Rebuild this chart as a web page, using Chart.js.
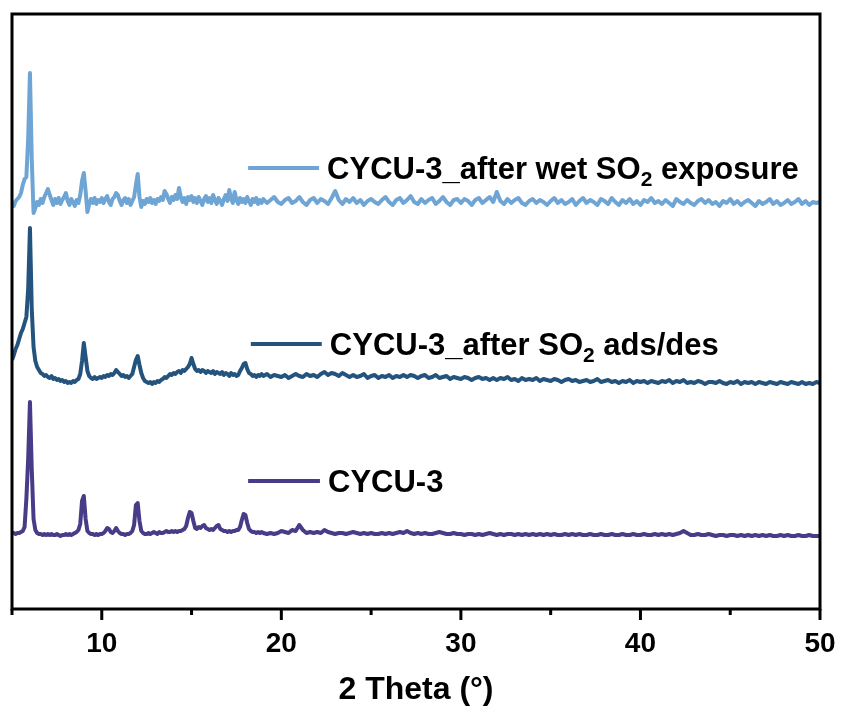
<!DOCTYPE html>
<html>
<head>
<meta charset="utf-8">
<script src="https://cdn.jsdelivr.net/npm/chart.js@4.4.1/dist/chart.umd.min.js"></script>
<style>
  html, body { margin: 0; padding: 0; background: #fff; }
  canvas { display: block; }
</style>
</head>
<body>
<canvas id="xrdChart" width="842" height="717"></canvas>
<script>
/* -------------------------------------------------------
   PXRD patterns of CYCU-3 (offset stacked, a.u.)
------------------------------------------------------- */

// 2 theta grid: 0.1 deg steps up to 18.9, then 0.2 deg steps to 50
const twoTheta = [
  5.0, 5.1, 5.2, 5.3, 5.4, 5.5, 5.6, 5.7, 5.8, 5.9,
  6.0, 6.1, 6.2, 6.3, 6.4, 6.5, 6.6, 6.7, 6.8, 6.9,
  7.0, 7.1, 7.2, 7.3, 7.4, 7.5, 7.6, 7.7, 7.8, 7.9,
  8.0, 8.1, 8.2, 8.3, 8.4, 8.5, 8.6, 8.7, 8.8, 8.9,
  9.0, 9.1, 9.2, 9.3, 9.4, 9.5, 9.6, 9.7, 9.8, 9.9,
  10.0, 10.1, 10.2, 10.3, 10.4, 10.5, 10.6, 10.7, 10.8, 10.9,
  11.0, 11.1, 11.2, 11.3, 11.4, 11.5, 11.6, 11.7, 11.8, 11.9,
  12.0, 12.1, 12.2, 12.3, 12.4, 12.5, 12.6, 12.7, 12.8, 12.9,
  13.0, 13.1, 13.2, 13.3, 13.4, 13.5, 13.6, 13.7, 13.8, 13.9,
  14.0, 14.1, 14.2, 14.3, 14.4, 14.5, 14.6, 14.7, 14.8, 14.9,
  15.0, 15.1, 15.2, 15.3, 15.4, 15.5, 15.6, 15.7, 15.8, 15.9,
  16.0, 16.1, 16.2, 16.3, 16.4, 16.5, 16.6, 16.7, 16.8, 16.9,
  17.0, 17.1, 17.2, 17.3, 17.4, 17.5, 17.6, 17.7, 17.8, 17.9,
  18.0, 18.1, 18.2, 18.3, 18.4, 18.5, 18.6, 18.7, 18.8, 18.9,
  19.0, 19.2, 19.4, 19.6, 19.8,  20.0, 20.2, 20.4, 20.6, 20.8,
  21.0, 21.2, 21.4, 21.6, 21.8,  22.0, 22.2, 22.4, 22.6, 22.8,
  23.0, 23.2, 23.4, 23.6, 23.8,  24.0, 24.2, 24.4, 24.6, 24.8,
  25.0, 25.2, 25.4, 25.6, 25.8,  26.0, 26.2, 26.4, 26.6, 26.8,
  27.0, 27.2, 27.4, 27.6, 27.8,  28.0, 28.2, 28.4, 28.6, 28.8,
  29.0, 29.2, 29.4, 29.6, 29.8,  30.0, 30.2, 30.4, 30.6, 30.8,
  31.0, 31.2, 31.4, 31.6, 31.8,  32.0, 32.2, 32.4, 32.6, 32.8,
  33.0, 33.2, 33.4, 33.6, 33.8,  34.0, 34.2, 34.4, 34.6, 34.8,
  35.0, 35.2, 35.4, 35.6, 35.8,  36.0, 36.2, 36.4, 36.6, 36.8,
  37.0, 37.2, 37.4, 37.6, 37.8,  38.0, 38.2, 38.4, 38.6, 38.8,
  39.0, 39.2, 39.4, 39.6, 39.8,  40.0, 40.2, 40.4, 40.6, 40.8,
  41.0, 41.2, 41.4, 41.6, 41.8,  42.0, 42.2, 42.4, 42.6, 42.8,
  43.0, 43.2, 43.4, 43.6, 43.8,  44.0, 44.2, 44.4, 44.6, 44.8,
  45.0, 45.2, 45.4, 45.6, 45.8,  46.0, 46.2, 46.4, 46.6, 46.8,
  47.0, 47.2, 47.4, 47.6, 47.8,  48.0, 48.2, 48.4, 48.6, 48.8,
  49.0, 49.2, 49.4, 49.6, 49.8,  50.0
];

// pristine CYCU-3
const cycuPristine = [
  76, 76, 75, 76, 76, 77, 78, 82, 110, 150,
  207, 140, 90, 79, 76, 75, 75, 74, 75, 74,
  75, 74, 75, 74, 74, 75, 74, 73, 74, 74,
  75, 74, 75, 74, 75, 76, 77, 79, 85, 108,
  113, 90, 78, 76, 75, 75, 74, 75, 74, 75,
  75, 76, 78, 81, 80, 77, 76, 78, 81, 78,
  76, 75, 75, 74, 75, 75, 76, 78, 84, 104,
  106, 88, 78, 76, 75, 75, 76, 75, 76, 77,
  76, 75, 77, 76, 76, 77, 78, 77, 77, 78,
  77, 78, 77, 78, 78, 79, 80, 83, 91, 97,
  96, 88, 81, 80, 82, 81, 83, 84, 81, 80,
  79, 80, 79, 81, 83, 84, 80, 79, 78, 78,
  77, 78, 77, 78, 78, 79, 79, 82, 89, 95,
  94, 86, 80, 78, 77, 77, 76, 77, 76, 77,
  76, 75, 76, 75, 76,  78, 77, 76, 79, 78,
  84, 79, 76, 77, 76,  77, 76, 79, 77, 76,
  75, 76, 76, 75, 76,  77, 76, 75, 76, 75,
  76, 75, 75, 76, 75,  76, 75, 76, 77, 76,
  78, 76, 75, 76, 75,  76, 75, 75, 76, 77,
  76, 75, 75, 76, 75,  75, 74, 75, 75, 74,
  75, 74, 75, 76, 75,  74, 75, 74, 75, 75,
  74, 75, 74, 75, 74,  75, 74, 75, 74, 75,
  74, 75, 74, 74, 75,  74, 75, 74, 75, 74,
  74, 75, 74, 74, 75,  74, 74, 75, 74, 74,
  75, 74, 74, 75, 74,  74, 75, 74, 74, 75,
  74, 75, 74, 75, 74,  75, 76, 78, 76, 74,
  74, 75, 74, 74, 75,  74, 73, 74, 74, 73,
  74, 74, 73, 74, 73,  74, 73, 74, 73, 74,
  73, 74, 73, 73, 74,  73, 74, 73, 73, 74,
  73, 73, 74, 73, 73,  73
];

// CYCU-3 after SO2 adsorption/desorption cycles
const cycuAdsDes = [
  249, 254, 260, 264, 270, 276, 280, 286, 292, 320,
  381, 300, 262, 248, 242, 239, 236, 235, 233, 234,
  232, 231, 233, 230, 231, 229, 230, 228, 229, 227,
  228, 226, 227, 226, 228, 227, 229, 230, 235, 248,
  266, 252, 238, 233, 231, 230, 232, 230, 231, 232,
  231, 233, 232, 234, 233, 235, 234, 236, 239, 237,
  235, 233, 234, 232, 233, 231, 233, 235, 242, 249,
  253, 244, 236, 231, 228, 227, 226, 227, 225, 227,
  226, 228, 227, 229, 230, 232, 231, 233, 235, 234,
  236, 235, 237, 238, 236, 239, 238, 240, 242, 245,
  251, 245, 240, 238, 239, 237, 239, 238, 236, 238,
  237, 236, 238, 235, 237, 236, 235, 237, 234, 236,
  235, 233, 236, 234, 235, 233, 234, 238, 241, 245,
  246, 240, 236, 235, 233, 234, 232, 234, 233, 235,
  233, 235, 232, 234, 233,  232, 234, 231, 233, 235,
  233, 232, 235, 233, 234,  232, 235, 237, 234, 236,
  235, 233, 236, 234, 232,  234, 232, 233, 235, 231,
  233, 234, 231, 233, 232,  234, 231, 233, 232, 234,
  232, 234, 233, 231, 233,  234, 231, 232, 234, 231,
  232, 233, 230, 232, 231,  230, 232, 231, 229, 231,
  232, 230, 231, 229, 231,  229, 231, 230, 232, 229,
  230, 228, 231, 229, 230,  229, 231, 228, 230, 229,
  228, 230, 229, 227, 229,  230, 228, 229, 227, 228,
  229, 227, 228, 230, 227,  228, 229, 227, 228, 226,
  228, 227, 229, 226, 228,  227, 228, 226, 228, 227,
  226, 228, 227, 229, 226,  228, 227, 229, 226, 227,
  226, 228, 227, 225, 227,  227, 226, 228, 226, 225,
  227, 226, 228, 225, 227,  226, 227, 225, 227, 226,
  225, 227, 226, 225, 227,  226, 225, 227, 226, 225,
  227, 225, 226, 225, 227,  226
];

// CYCU-3 after wet SO2 exposure
const cycuWetSO2 = [
  406, 403, 408, 410, 412, 416, 424, 430, 432, 470,
  536, 450, 396, 401, 407, 404, 410, 406, 412, 416,
  420, 414, 409, 404, 410, 406, 411, 405, 409, 412,
  416, 408, 404, 410, 407, 403, 409, 406, 414, 428,
  436, 418, 397, 405, 410, 406, 411, 405, 409, 407,
  411, 406, 410, 413, 407, 404, 410, 412, 416, 414,
  408, 404, 409, 411, 406, 410, 404, 408, 412, 424,
  435, 412, 402, 408, 405, 410, 407, 411, 406, 409,
  405, 410, 408, 412, 409, 418, 415, 410, 406, 412,
  409, 414, 410, 421, 412, 407, 411, 405, 412, 409,
  413, 407, 411, 406, 412, 408, 404, 410, 413, 407,
  411, 406, 414, 409, 405, 411, 408, 404, 410, 414,
  408, 419, 410, 406, 417, 409, 405, 411, 407, 410,
  406, 412, 408, 404, 410, 407, 411, 405, 409, 406,
  410, 406, 409, 412, 407,  405, 409, 411, 406, 408,
  412, 407, 404, 409, 411,  406, 410, 408, 405, 411,
  418, 409, 405, 410, 407,  411, 406, 409, 404, 408,
  410, 407, 405, 409, 412,  407, 404, 409, 411, 406,
  409, 413, 407, 405, 410,  406, 409, 411, 405, 408,
  412, 407, 404, 409, 410,  406, 410, 408, 404, 409,
  411, 406, 409, 412, 407,  417, 408, 405, 410, 406,
  409, 411, 406, 404, 408,  410, 406, 409, 407, 404,
  408, 411, 406, 409, 405,  407, 410, 404, 408, 411,
  406, 409, 407, 404, 410,  408, 405, 411, 407, 404,
  409, 406, 410, 405, 408,  404, 409, 407, 411, 406,
  408, 405, 409, 406, 403,  410, 407, 405, 409, 406,
  404, 408, 410, 406, 409,  405, 407, 403, 408, 406,
  410, 405, 408, 404, 407,  409, 406, 403, 408, 405,
  407, 410, 405, 408, 404,  406, 409, 405, 407, 410,
  405, 408, 404, 407, 406,  407
];

const seriesNames = [
  "CYCU-3_after wet SO{2} exposure",
  "CYCU-3_after SO{2} ads/des",
  "CYCU-3"
];
const seriesColors = ["#6fa5d4", "#24547d", "#483c89"];

// where each legend entry sits, in axis units (line start/end, text start, height)
const legendSpots = [
  { x0: 18.15, x1: 22.1, xt: 22.55, y: 441 },
  { x0: 18.3, x1: 22.25, xt: 22.7, y: 265 },
  { x0: 18.15, x1: 22.15, xt: 22.6, y: 128 }
];

const FONT = '"Liberation Sans", Arial, Helvetica, sans-serif';

function toPoints(values) {
  return values.map((v, i) => ({ x: twoTheta[i], y: v }));
}

// frame, outward ticks (long at 10s, short at 5s) and the inline legend
const framePlugin = {
  id: "frame",
  afterDatasetsDraw(chart) {
    const { ctx, scales } = chart;
    const xs = scales.x, ys = scales.y;
    ctx.save();
    seriesNames.forEach((name, i) => {
      const spot = legendSpots[i];
      const ly = ys.getPixelForValue(spot.y);
      ctx.strokeStyle = seriesColors[i];
      ctx.lineWidth = 4;
      ctx.beginPath();
      ctx.moveTo(xs.getPixelForValue(spot.x0), ly);
      ctx.lineTo(xs.getPixelForValue(spot.x1), ly);
      ctx.stroke();

      // label, with {..} parts set as subscripts
      let tx = xs.getPixelForValue(spot.xt);
      const base = ly + 11;
      ctx.fillStyle = "#000";
      ctx.textBaseline = "alphabetic";
      ctx.textAlign = "left";
      name.split(/(\{[^}]*\})/).forEach(part => {
        if (!part) return;
        if (part[0] === "{") {
          const sub = part.slice(1, -1);
          ctx.font = "bold 21px " + FONT;
          ctx.fillText(sub, tx, base + 7);
          tx += ctx.measureText(sub).width;
        } else {
          ctx.font = "bold 31px " + FONT;
          ctx.fillText(part, tx, base);
          tx += ctx.measureText(part).width;
        }
      });
    });
    ctx.restore();
  },
  afterDraw(chart) {
    const { ctx, chartArea: a, scales } = chart;
    ctx.save();
    ctx.strokeStyle = "#000";
    ctx.lineWidth = 3;
    ctx.strokeRect(a.left, a.top, a.right - a.left, a.bottom - a.top);
    ctx.beginPath();
    scales.x.ticks.forEach(t => {
      const px = scales.x.getPixelForValue(t.value);
      const len = t.value % 10 === 0 ? 11 : 6;
      ctx.moveTo(px, a.bottom);
      ctx.lineTo(px, a.bottom + len);
    });
    ctx.stroke();
    ctx.restore();
  }
};

new Chart(document.getElementById("xrdChart"), {
  type: "line",
  data: {
    datasets: seriesNames.map((name, i) => ({
      label: name.replace(/[{}]/g, ""),
      data: toPoints([cycuWetSO2, cycuAdsDes, cycuPristine][i]),
      borderColor: seriesColors[i],
      borderWidth: 4,
      borderJoinStyle: "round",
      pointRadius: 0,
      tension: 0,
      fill: false
    }))
  },
  options: {
    responsive: false,
    animation: false,
    layout: { padding: { left: 12, right: 22, top: 14, bottom: 0 } },
    plugins: {
      legend: { display: false },
      tooltip: { enabled: false }
    },
    scales: {
      x: {
        type: "linear",
        min: 5,
        max: 50,
        afterFit(scale) {
          scale.height = 108;
          scale.paddingLeft = 0;
          scale.paddingRight = 0;
        },
        grid: { display: false, drawTicks: false },
        border: { display: false },
        ticks: {
          stepSize: 5,
          padding: 18,
          color: "#000",
          font: { family: FONT, size: 28, weight: "bold" },
          callback: v => (v % 10 === 0 ? v : "")
        },
        title: {
          display: true,
          text: "2 Theta (°)",
          color: "#000",
          font: { family: FONT, size: 32, weight: "bold" },
          padding: { top: 0, bottom: 8 }
        }
      },
      y: {
        display: false,
        min: 0,
        max: 595
      }
    }
  },
  plugins: [framePlugin]
});
</script>
</body>
</html>
